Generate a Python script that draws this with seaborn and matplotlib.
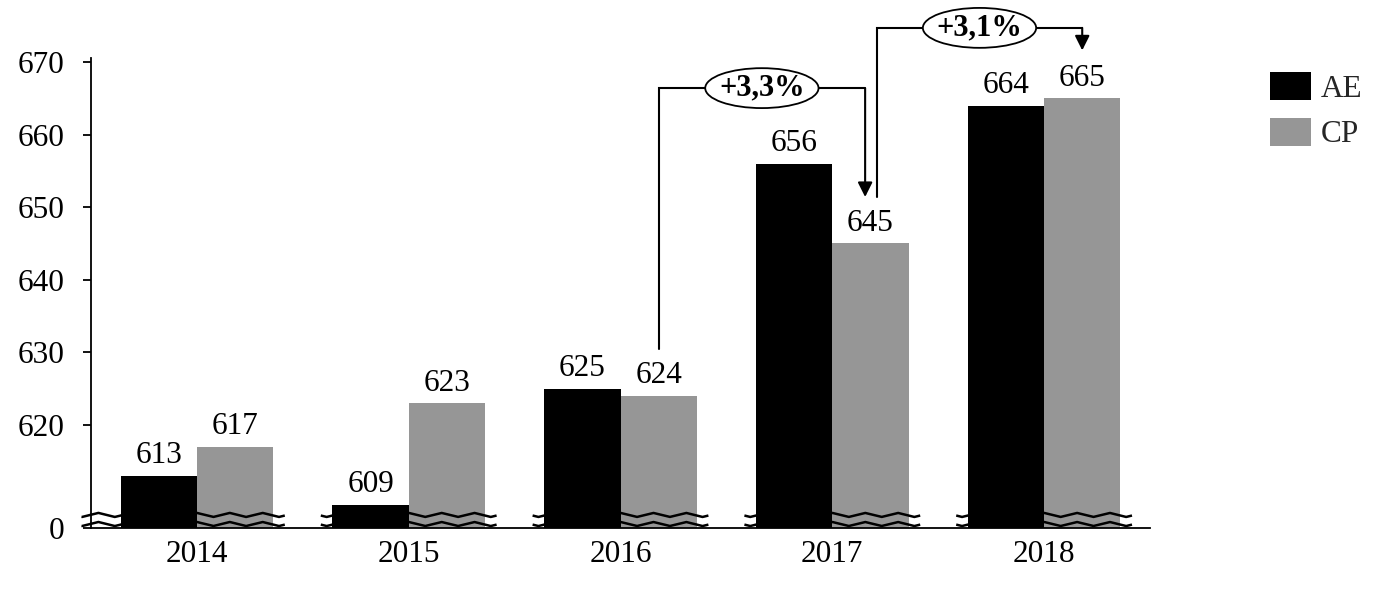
import numpy as np
import pandas as pd
import matplotlib
matplotlib.use("Agg")
import matplotlib.pyplot as plt
import matplotlib.patches as mpatches
import seaborn as sns

years = ["2014", "2015", "2016", "2017", "2018"]
series = ["AE", "CP"]
ae_values = [613, 609, 625, 656, 664]
cp_values = [617, 623, 624, 645, 665]
colors = ["#000000", "#969696"]
y_ticks = [620, 630, 640, 650, 660, 670]
break_bottom = 605.8  # value drawn at the "0" tick (broken axis)
growth_labels = ["+3,3%", "+3,1%"]

sns.set_theme(style="white")
plt.rcParams["font.family"] = ["Liberation Serif", "DejaVu Serif"]
FS = 22.5

df = pd.DataFrame({
    "year": years * 2,
    "series": [series[0]] * len(years) + [series[1]] * len(years),
    "value": ae_values + cp_values,
})

fig = plt.figure(figsize=(13.79, 5.91), dpi=100)
ax = fig.add_axes([91 / 1379, 1 - 528 / 591, (1150 - 91) / 1379, (528 - 58) / 591])

sns.barplot(data=df, x="year", y="value", hue="series", order=years,
            hue_order=series, palette=colors, width=0.72, saturation=1,
            linewidth=0, legend=False, ax=ax)

ax.set_xlim(-0.5, len(years) - 0.5)
ax.set_ylim(break_bottom, 670.55)
ax.set_yticks([break_bottom] + y_ticks)
ax.set_yticklabels(["0"] + [str(t) for t in y_ticks])
ax.set_xlabel("")
ax.set_ylabel("")

for s in ["top", "right"]:
    ax.spines[s].set_visible(False)
for s in ["left", "bottom"]:
    ax.spines[s].set_color("black")
    ax.spines[s].set_linewidth(1.3)

ax.tick_params(axis="y", which="both", left=True, length=6, width=1.3,
               color="black", pad=13, labelsize=FS, labelcolor="black")
ax.tick_params(axis="x", length=0, pad=9, labelsize=FS, labelcolor="black")

for cont in ax.containers:
    ax.bar_label(cont, fmt="%d", padding=4, fontsize=FS, color="black")

# wavy break marks
period = 0.155
amp = 0.28
for i in range(len(years)):
    left = i - 0.415 if i > 0 else -0.545
    right = i + 0.415
    xs = np.linspace(left, right, 600)
    t = (xs - i) / period
    tri = 1 - 4 * np.abs(t - np.round(t))
    for base in (607.6, 606.35):
        ax.plot(xs, base + amp * tri, color="black", lw=1.8, zorder=5,
                clip_on=False, solid_capstyle="butt")

# growth annotations
cp_off = 0.72 / 4


def bracket(x0, y0, ytop, x1, ytip, label):
    ax.plot([x0, x0, x1], [y0, ytop, ytop], color="black", lw=1.5,
            clip_on=False, zorder=6, solid_joinstyle="miter")
    ax.annotate("", xy=(x1, ytip), xytext=(x1, ytop),
                arrowprops=dict(arrowstyle="-|>", mutation_scale=22, lw=1.5,
                                color="black", shrinkA=0, shrinkB=0),
                annotation_clip=False, zorder=6)
    xm = (x0 + x1) / 2
    ell = mpatches.Ellipse((xm, ytop), width=0.535, height=5.5, fc="white",
                           ec="black", lw=1.3, clip_on=False, zorder=7)
    ax.add_patch(ell)
    ax.text(xm, ytop, label, ha="center", va="center", fontsize=FS - 0.5,
            fontweight="bold", color="black", zorder=8, clip_on=False)


bracket(2 + cp_off, 630.4, 666.4, 3 + cp_off - 0.025, 651.4, growth_labels[0])
bracket(3 + cp_off + 0.03, 651.4, 674.7, 4 + cp_off, 671.6, growth_labels[1])

handles = [mpatches.Patch(facecolor=c, edgecolor="none", label=s)
           for s, c in zip(series, colors)]
leg = ax.legend(handles=handles, loc="upper left",
                bbox_to_anchor=(1270 / 1379, 1 - 72 / 591),
                bbox_transform=fig.transFigure, frameon=False,
                fontsize=FS, handlelength=1.31, handleheight=1.0,
                handletextpad=0.3, labelspacing=0.45, borderpad=0,
                borderaxespad=0)

fig.savefig("out.png", dpi=100, facecolor="white")
